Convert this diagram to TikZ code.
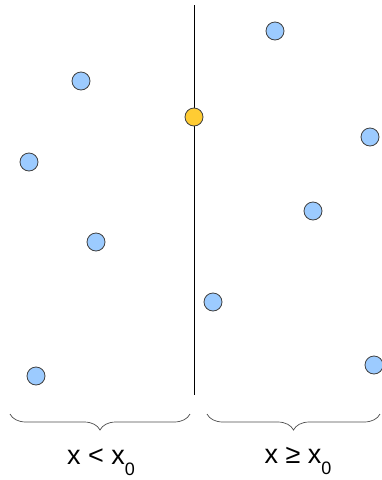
\documentclass[tikz,border=0pt]{standalone}
\usepackage{fontspec}
\setmainfont{Liberation Sans}
\usetikzlibrary{decorations.pathreplacing}
\definecolor{ptblue}{HTML}{9CCBFF}
\definecolor{ptgold}{HTML}{FFCC33}
\newcommand{\lowidx}[1]{\raisebox{-0.4em}{\fontsize{18}{18}\selectfont #1}}

\begin{document}
\begin{tikzpicture}[x=1pt,y=-1pt,
  pt/.style={circle,draw=black!75,line width=0.8pt,fill=ptblue,minimum size=18pt,inner sep=0pt},
  brc/.style={decorate,decoration={brace,mirror,amplitude=16pt},draw=black!70,line width=0.7pt},
  lbl/.style={font=\fontsize{27}{30}\selectfont,inner sep=1pt}]
\useasboundingbox (0,0) rectangle (382,480);
\coordinate (top) at (194,5);
\coordinate (bot) at (194,395);
\draw[line width=0.8pt] (top)--(bot);
\foreach \name/\x/\y in {p1/275/31,p2/81/81,p3/370/137,p4/29/162,p5/313/211,p6/96/242,p7/213/302,p8/36/376,p9/374/365}{
  \node[pt] (\name) at (\x,\y) {};
}
\node[pt,fill=ptgold] (med) at (194,117) {};
\coordinate (l1) at (10,414); \coordinate (l2) at (190,414);
\coordinate (r1) at (207,414); \coordinate (r2) at (380,414);
\draw[brc] (l1)--(l2);
\draw[brc] (r1)--(r2);
\node[lbl] (less) at (101,462) {x < x\lowidx{0}};
\node[lbl] (geq) at (298,461) {x ≥ x\lowidx{0}};
\end{tikzpicture}
\end{document}
